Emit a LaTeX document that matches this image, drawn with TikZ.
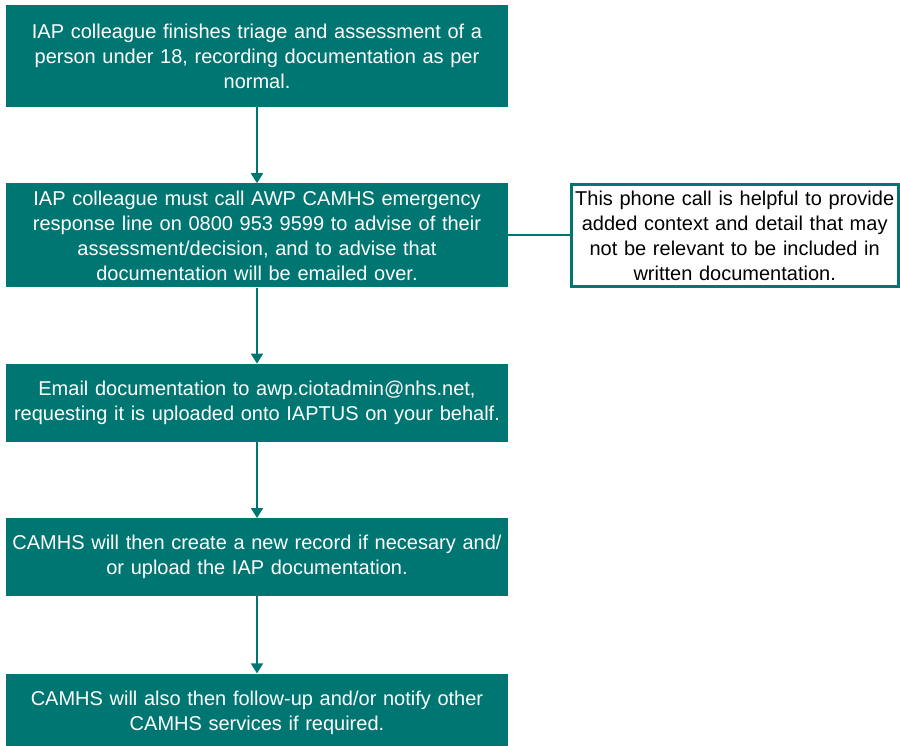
\documentclass[tikz,border=0pt]{standalone}
\usepackage{fontspec}
\setmainfont{Liberation Sans}
\usetikzlibrary{positioning,arrows.meta}
\definecolor{nhsteal}{RGB}{0,118,114}
\tikzset{
  stepbox/.style={rectangle,fill=nhsteal,text=white,text width=490pt,inner sep=6pt,align=center,font=\fontsize{20}{25}\selectfont},
  notebox/.style={rectangle,draw=nhsteal,line width=3pt,fill=white,text=black,text width=324pt,inner sep=1.5pt,align=center,minimum height=102pt,font=\fontsize{20}{25}\selectfont},
  flow/.style={nhsteal,line width=1.8pt,-{Triangle[width=12pt,length=10pt]}}
}
\begin{document}
\begin{tikzpicture}[x=1pt,y=-1pt]
  \useasboundingbox (0,0) rectangle (900,746);
  \node(triage)[stepbox,minimum height=102pt] at (257,56){IAP colleague finishes triage and assessment of a\\ person under 18, recording documentation as per\\ normal.};
  \node(call)[stepbox,minimum height=104pt,below = 76pt of triage]{IAP colleague must call AWP CAMHS emergency\\ response line on 0800 953 9599 to advise of their\\ assessment/decision, and to advise that\\ documentation will be emailed over.};
  \node(email)[stepbox,minimum height=78pt,below = 76pt of call]{Email documentation to awp.ciotadmin@nhs.net,\\ requesting it is uploaded onto IAPTUS on your behalf.};
  \node(record)[stepbox,minimum height=78pt,below = 76pt of email]{CAMHS will then create a new record if necesary and/\\ or upload the IAP documentation.};
  \node(notify)[stepbox,minimum height=78pt,below = 77pt of record]{CAMHS will also then follow-up and/or notify other\\ CAMHS services if required.};
  \node(note)[notebox,right = 61.5pt of call]{This phone call is helpful to provide\\ added context and detail that may\\ not be relevant to be included in\\ written documentation.};
\draw[flow](triage)--(call);
\draw[flow](call)--(email);
\draw[flow](email)--(record);
\draw[flow](record)--(notify);
\draw[nhsteal,line width=1.8pt](call)--(note);
\end{tikzpicture}
\end{document}
